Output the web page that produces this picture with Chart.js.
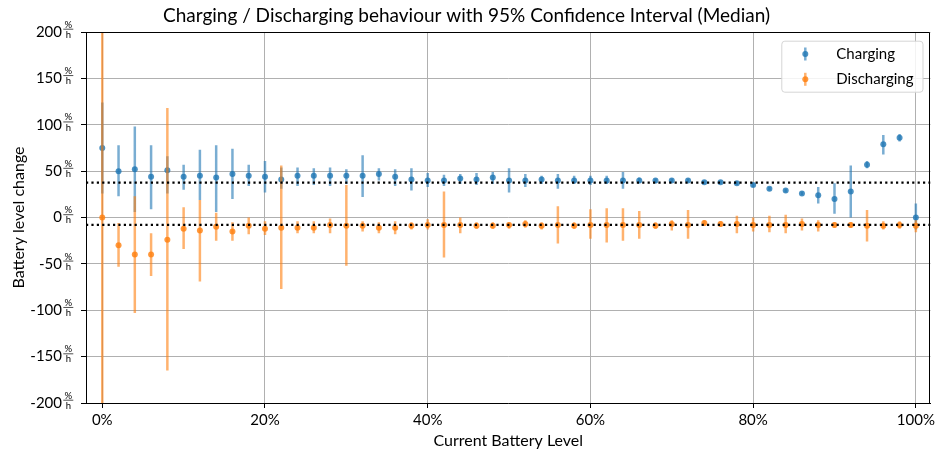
<!DOCTYPE html>
<html>
<head>
<meta charset="utf-8">
<script src="https://cdn.jsdelivr.net/npm/chart.js@4/dist/chart.umd.min.js"></script>
<style>
  html, body { margin: 0; padding: 0; background: #fff; }
  #wrap { width: 938px; height: 450px; }
</style>
</head>
<body>
<div id="wrap"><canvas id="myChart"></canvas></div>
<script>
// Data (battery level in %, change in %/h)
const batteryLevels = [0, 2, 4, 6, 8, 10, 12, 14, 16, 18, 20, 22, 24, 26, 28, 30, 32, 34, 36, 38, 40,
  42, 44, 46, 48, 50, 52, 54, 56, 58, 60, 62, 64, 66, 68, 70, 72, 74, 76, 78, 80,
  82, 84, 86, 88, 90, 92, 94, 96, 98, 100];

const chargingMedian = [75, 50, 52, 44, 51, 44, 45, 43, 47, 45, 44, 41, 45, 45, 45, 45, 45, 47, 44, 41, 40,
  40, 42, 41, 43, 40, 40, 41, 40, 40, 40, 40, 40, 40, 40, 40, 40, 38, 38, 37, 35,
  31, 29, 26, 24, 20, 28, 57, 79, 86, 0];
const chargingLow = [26, 23, 6, 9, 26, 30, 19, 6, 20, 34, 27, 31, 34, 35, 34, 36, 22, 40, 34, 29, 33,
  34, 36, 35, 36, 27, 33, 36, 31, 36, 35, 36, 31, 37, 37, 38, 38, 36, 36, 35, 33,
  29, 27, 24, 15, 4, 0, 53, 68, 82, -13];
const chargingHigh = [124, 78, 98, 78, 66, 57, 73, 78, 74, 57, 61, 54, 54, 53, 54, 52, 67, 53, 52, 53, 48,
  46, 47, 48, 49, 53, 47, 45, 47, 45, 45, 45, 49, 43, 42, 42, 42, 40, 40, 39, 37,
  33, 31, 28, 33, 37, 56, 61, 89, 90, 15];

const dischargingMedian = [0, -30, -40, -40, -24, -12, -14, -10, -15, -9, -12, -11, -11, -11, -8, -9, -9, -11, -11, -9, -8,
  -8, -8, -9, -9, -8, -7, -9, -8, -9, -8, -8, -8, -8, -9, -7, -8, -6, -7, -7, -8,
  -8, -8, -7, -8, -8, -8, -9, -9, -8, -9];
const dischargingLow = [-260, -53, -103, -63, -165, -34, -69, -25, -25, -18, -19, -77, -17, -17, -17, -52, -15, -17, -18, -13, -13,
  -43, -17, -12, -12, -12, -11, -13, -28, -12, -23, -27, -25, -23, -12, -14, -23, -9, -10, -17, -15,
  -16, -17, -14, -15, -11, -11, -26, -13, -12, -16];
const dischargingHigh = [260, -6, 23, -17, 118, 11, 19, 5, -5, 0, -4, 56, -4, -4, -1, 35, -4, -5, -4, -5, -2,
  28, 0, -5, -5, -5, -3, -5, 12, -5, 9, 10, 10, 7, -5, -3, 8, -3, -4, 2, 0,
  2, 3, -1, -3, -5, -5, 8, -4, -4, -3];

// overall medians (dotted lines)
const chargingOverall = 37.5;
const dischargingOverall = -8;

const xTicks = [0, 20, 40, 60, 80, 100];
const yTicks = [-200, -150, -100, -50, 0, 50, 100, 150, 200];
const xRange = [-2, 101.8];
const yRange = [-200, 200];

const seriesNames = ['Charging', 'Discharging'];
const blue = '31,119,180';
const orange = '255,127,14';
const FONT = 'Lato';

function points(ys) {
  return batteryLevels.map((x, i) => ({ x: x, y: ys[i] }));
}
// one line dataset per series: segments lo->hi separated by gaps
function errorSegments(lo, hi) {
  const out = [];
  batteryLevels.forEach((x, i) => {
    out.push({ x: x, y: lo[i] }, { x: x, y: hi[i] }, { x: x, y: null });
  });
  return out;
}

// fraction "%/h" next to each y tick label
const unitPlugin = {
  id: 'unitFraction',
  afterDraw(chart) {
    const ctx = chart.ctx;
    const ys = chart.scales.y;
    const cx = 68.3;
    ctx.save();
    ctx.fillStyle = '#000';
    ctx.strokeStyle = '#000';
    ctx.textAlign = 'center';
    ctx.textBaseline = 'alphabetic';
    ctx.font = '9.5px ' + FONT;
    ys.ticks.forEach(t => {
      const y = ys.getPixelForValue(t.value);
      ctx.fillText('%', cx, y - 4.3);
      ctx.lineWidth = 0.7;
      ctx.beginPath();
      ctx.moveTo(cx - 5, y - 2.8);
      ctx.lineTo(cx + 5, y - 2.8);
      ctx.stroke();
      ctx.fillText('h', cx, y + 5.8);
    });
    ctx.restore();
  }
};

// top / right spines
const framePlugin = {
  id: 'frame',
  afterDatasetsDraw(chart) {
    const { ctx, chartArea: a } = chart;
    ctx.save();
    ctx.strokeStyle = '#000';
    ctx.lineWidth = 1;
    ctx.beginPath();
    ctx.moveTo(Math.round(a.left) + 0.5, Math.round(a.top) + 0.5);
    ctx.lineTo(Math.round(a.right) - 0.5, Math.round(a.top) + 0.5);
    ctx.lineTo(Math.round(a.right) - 0.5, Math.round(a.bottom) + 0.5);
    ctx.stroke();
    ctx.restore();
  }
};

// matplotlib-like legend box inside the axes
const legendPlugin = {
  id: 'boxLegend',
  afterDraw(chart) {
    const { ctx, chartArea: a } = chart;
    const cols = [blue, orange];
    ctx.save();
    ctx.font = '15px ' + FONT;
    const tw = Math.max(...seriesNames.map(s => ctx.measureText(s).width));
    const right = a.right - 8;
    const top = a.top + 8.7;
    const rowH = 25.3;
    const h = 51;
    const textX = right - 9 - tw;
    const markX = textX - 31;
    const left = markX - 24;
    ctx.beginPath();
    ctx.roundRect(left + 0.5, top + 0.5, right - left, h, 3);
    ctx.fillStyle = 'rgba(255,255,255,0.85)';
    ctx.fill();
    ctx.strokeStyle = '#d5d5d5';
    ctx.lineWidth = 1;
    ctx.stroke();
    seriesNames.forEach((name, i) => {
      const y = top + 13.3 + i * rowH;
      ctx.strokeStyle = 'rgba(' + cols[i] + ',0.6)';
      ctx.lineWidth = 2.5;
      ctx.beginPath();
      ctx.moveTo(markX, y - 6.5);
      ctx.lineTo(markX, y + 6.5);
      ctx.stroke();
      ctx.fillStyle = 'rgba(' + cols[i] + ',0.8)';
      ctx.beginPath();
      ctx.arc(markX, y, 3, 0, Math.PI * 2);
      ctx.fill();
      ctx.fillStyle = '#000';
      ctx.textBaseline = 'middle';
      ctx.fillText(name, textX, y);
    });
    ctx.restore();
  }
};

const ctx = document.getElementById('myChart').getContext('2d');
const myChart = new Chart(ctx, {
  type: 'scatter',
  data: {
    datasets: [
      {
        label: 'Charging CI', type: 'line', order: 5,
        data: errorSegments(chargingLow, chargingHigh),
        borderColor: 'rgba(' + blue + ',0.6)', borderWidth: 2.5,
        pointRadius: 0, spanGaps: false, borderCapStyle: 'butt'
      },
      {
        label: seriesNames[0], order: 4,
        data: points(chargingMedian),
        backgroundColor: 'rgba(' + blue + ',0.8)', borderWidth: 0, pointRadius: 3
      },
      {
        label: 'Discharging CI', type: 'line', order: 3,
        data: errorSegments(dischargingLow, dischargingHigh),
        borderColor: 'rgba(' + orange + ',0.6)', borderWidth: 2.5,
        pointRadius: 0, spanGaps: false, borderCapStyle: 'butt'
      },
      {
        label: seriesNames[1], order: 2,
        data: points(dischargingMedian),
        backgroundColor: 'rgba(' + orange + ',0.8)', borderWidth: 0, pointRadius: 3
      },
      {
        label: 'Charging median', type: 'line', order: 1,
        data: [{ x: xRange[0], y: chargingOverall }, { x: xRange[1], y: chargingOverall }],
        borderColor: '#000', borderWidth: 2.2, borderDash: [2.2, 3.2], pointRadius: 0
      },
      {
        label: 'Discharging median', type: 'line', order: 0,
        data: [{ x: xRange[0], y: dischargingOverall }, { x: xRange[1], y: dischargingOverall }],
        borderColor: '#000', borderWidth: 2.2, borderDash: [2.2, 3.2], pointRadius: 0
      }
    ]
  },
  options: {
    responsive: true,
    maintainAspectRatio: false,
    animation: false,
    layout: { padding: { left: 0, right: 5, top: 0, bottom: 0 } },
    plugins: {
      legend: { display: false },
      tooltip: { enabled: false },
      title: {
        display: true,
        text: 'Charging / Discharging behaviour with 95% Confidence Interval (Median)',
        color: '#000',
        font: { family: FONT, size: 19, weight: 'normal' },
        padding: { top: 4.6, bottom: 4.6 }
      }
    },
    scales: {
      x: {
        type: 'linear',
        min: xRange[0], max: xRange[1],
        afterBuildTicks: s => { s.ticks = xTicks.map(v => ({ value: v })); },
        afterFit: s => { s.height = 47; },
        ticks: {
          color: '#000', padding: 3, maxRotation: 0,
          font: { family: FONT, size: 15 },
          callback: v => v + '%'
        },
        grid: { color: '#b0b0b0', lineWidth: 1, tickColor: '#000', tickLength: 5 },
        border: { color: '#000', width: 1 },
        title: {
          display: true, text: 'Current Battery Level', color: '#000',
          font: { family: FONT, size: 16 }, padding: { top: 0, bottom: 0 }
        }
      },
      y: {
        type: 'linear',
        min: yRange[0], max: yRange[1],
        afterBuildTicks: s => { s.ticks = yTicks.map(v => ({ value: v })); },
        afterFit: s => { s.width = 86; },
        ticks: {
          color: '#000', padding: 19,
          font: { family: FONT, size: 15 },
          callback: v => String(v)
        },
        grid: { color: '#b0b0b0', lineWidth: 1, tickColor: '#000', tickLength: 5 },
        border: { color: '#000', width: 1 },
        title: {
          display: true, text: 'Battery level change', color: '#000',
          font: { family: FONT, size: 16 }, padding: { top: 9, bottom: 0 }
        }
      }
    }
  },
  plugins: [framePlugin, unitPlugin, legendPlugin]
});
</script>
</body>
</html>
